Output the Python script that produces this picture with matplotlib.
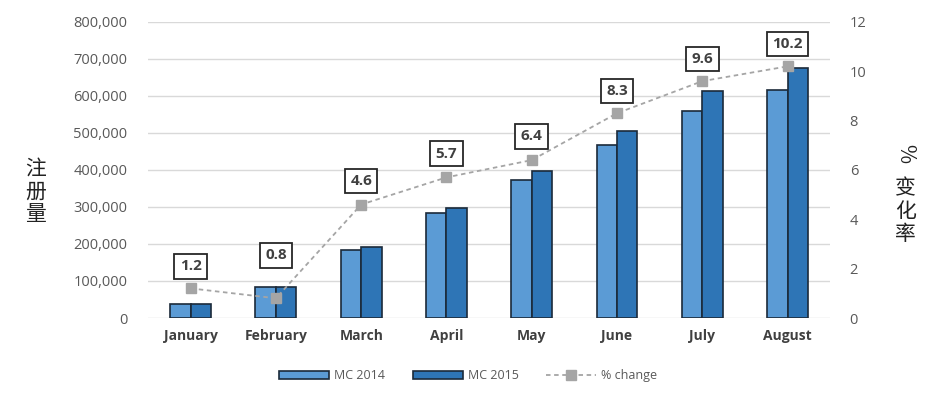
import matplotlib
matplotlib.use("Agg")
import matplotlib.pyplot as plt
import numpy as np
from matplotlib.ticker import FuncFormatter

plt.rcParams['font.family'] = ['Open Sans', 'DejaVu Sans']

months = ["January", "February", "March", "April", "May", "June", "July", "August"]
mc2014 = [38000, 84000, 184000, 283000, 374000, 467000, 560000, 615000]
mc2015 = [39000, 85000, 191000, 298000, 397000, 505000, 613000, 676000]
pct_change = [1.2, 0.8, 4.6, 5.7, 6.4, 8.3, 9.6, 10.2]

c14 = "#5B9BD5"
c15 = "#2E75B6"
edge = "#1B2A3A"
gray_txt = "#595959"

fig = plt.figure(figsize=(9.37, 3.99), dpi=100)
ax = fig.add_axes([0.158, 0.203, 0.728, 0.742])
x = np.arange(len(months))
w = 0.24
ax.bar(x - w/2, mc2014, w, color=c14, edgecolor=edge, linewidth=1.2, label="MC 2014", zorder=3)
ax.bar(x + w/2, mc2015, w, color=c15, edgecolor=edge, linewidth=1.2, label="MC 2015", zorder=3)
ax.set_ylim(0, 800000)
ax.set_xlim(-0.5, len(months) - 0.5)
ax.set_yticks(np.arange(0, 800001, 100000))
ax.yaxis.set_major_formatter(FuncFormatter(lambda v, p: f"{int(v):,}"))
ax.grid(axis='y', color="#D9D9D9", linewidth=1, zorder=0)
for s in ax.spines.values():
    s.set_visible(False)
ax.tick_params(axis='both', length=0)
ax.tick_params(axis='y', labelsize=10.5, labelcolor=gray_txt, pad=15)
ax.set_xticks(x)
ax.set_xticklabels(months, fontsize=10, fontweight='bold', color="#404040")
ax.tick_params(axis='x', pad=8)

ax2 = ax.twinx()
ax2.set_ylim(0, 12)
ax2.set_yticks(np.arange(0, 13, 2))
for s in ax2.spines.values():
    s.set_visible(False)
ax2.tick_params(axis='y', length=0, labelsize=10.5, labelcolor=gray_txt, pad=14)
ax2.plot(x, pct_change, linestyle=(0, (2.5, 2)), color="#A5A5A5", linewidth=1.3,
         marker='s', markersize=7, markerfacecolor="#A5A5A5", markeredgecolor="#A5A5A5",
         label="% change", zorder=4)
label_offsets = [16, 31, 17, 17, 17, 16, 16, 16]
for xi, v, off in zip(x, pct_change, label_offsets):
    ax2.annotate(f"{v}", (xi, v), xytext=(0, off), textcoords='offset points',
                 ha='center', va='center', fontsize=11, fontweight='bold', color="#404040",
                 bbox=dict(boxstyle='square,pad=0.35', facecolor='white', edgecolor='#262626', linewidth=1.3))

h1, l1 = ax.get_legend_handles_labels()
h2, l2 = ax2.get_legend_handles_labels()
fig.legend(h1 + h2, l1 + l2, loc='center', bbox_to_anchor=(0.5, 0.058), ncol=3, frameon=False,
           fontsize=9, handlelength=4.0, columnspacing=2.2, labelcolor=gray_txt, handletextpad=0.4)

cjk = ['Noto Sans CJK SC', 'DejaVu Sans']
fig.text(0.038, 0.52, "注\n册\n量", ha='center', va='center', fontsize=15, family=cjk,
         linespacing=1.05, color="#222222")
fig.text(0.966, 0.615, "%", ha='center', va='center', fontsize=15, rotation=-90, family=cjk, color="#222222")
fig.text(0.966, 0.47, "变\n化\n率", ha='center', va='center', fontsize=15, family=cjk,
         linespacing=1.05, color="#222222")

fig.savefig("out.png", dpi=100)
